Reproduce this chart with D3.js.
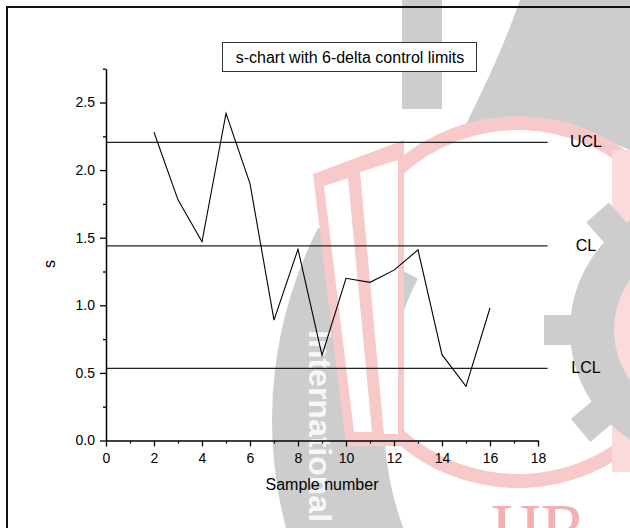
<!DOCTYPE html>
<html>
<head>
<meta charset="utf-8">
<script src="https://cdn.jsdelivr.net/npm/d3@7"></script>
<style>
	body { margin: 0; background: #fff; }
	svg { display: block; font-family: "Liberation Sans", Arial, sans-serif; }
</style>
</head>
<body>
<div id="chart"></div>
<script>
// s values per sample
const sampleNumbers = [2, 3, 4, 5, 6, 7, 8, 9, 10, 11, 12, 13, 14, 15, 16];
const sValues = [2.28, 1.78, 1.47, 2.42, 1.90, 0.89, 1.415, 0.63, 1.20, 1.17, 1.26, 1.41, 0.635, 0.40, 0.98];

const limitNames = ["UCL", "CL", "LCL"];
const limitValues = [2.205, 1.44, 0.533];

const xTicks = [0, 2, 4, 6, 8, 10, 12, 14, 16, 18];
const xMinorTicks = [1, 3, 5, 7, 9, 11, 13, 15, 17];
const yTicks = [0, 0.5, 1.0, 1.5, 2.0, 2.5];
const yMinorTicks = [0.25, 0.75, 1.25, 1.75, 2.25, 2.75];

const titleText = "s-chart with 6-delta control limits";
const xTitle = "Sample number";
const yTitle = "s";

const width = 630, height = 528;

let svg = d3.select("#chart").append("svg")
	.attr("width", width)
	.attr("height", height);

let x = d3.scaleLinear().domain([0, 18]).range([106, 538]);
let y = d3.scaleLinear().domain([0, 2.75]).range([440.5, 68.7]);

// faint logo watermark behind the plot
function drawWatermark(g) {
	let grey = "#cdcdcd", pink = "#f7c9c9";
	// big grey band on the left
	g.append("path")
		.attr("transform", "translate(696,420)")
		.attr("d", d3.arc().innerRadius(312).outerRadius(424).startAngle(-2.5).endAngle(-1.1)())
		.attr("fill", grey);
	// grey bar at the top
	g.append("rect").attr("x", 402).attr("y", 0).attr("width", 40).attr("height", 109).attr("fill", grey);
	// grey swoosh top right
	g.append("path")
		.attr("d", "M520,0 L630,0 L630,150 C580,128 520,118 466,124 C488,80 506,40 520,0 Z")
		.attr("fill", grey);
	// pink ring (white inside)
	g.append("path")
		.attr("transform", "translate(518,302)")
		.attr("d", d3.arc().innerRadius(0).outerRadius(184).startAngle(-0.75).endAngle(Math.PI + 0.75)())
		.attr("fill", "#fff");
	g.append("path")
		.attr("transform", "translate(518,302)")
		.attr("d", d3.arc().innerRadius(172).outerRadius(186).startAngle(-0.75).endAngle(Math.PI + 0.75)())
		.attr("fill", pink);
	// book pages
	g.append("path")
		.attr("d", "M313,174 L404,140 L404,446 L346,446 Z")
		.attr("fill", pink);
	g.append("path")
		.attr("d", "M324,186 L348,178 L372,432 L354,432 Z")
		.attr("fill", "#fff");
	g.append("path")
		.attr("d", "M360,172 L398,160 L398,434 L384,434 Z")
		.attr("fill", "#fff");
	// pink strip on right edge
	g.append("rect").attr("x", 612).attr("y", 150).attr("width", 18).attr("height", 322).attr("fill", "#fadada");
	// grey gear on the right
	let gear = g.append("g").attr("transform", "translate(700,330)");
	gear.append("path")
		.attr("d", d3.arc().innerRadius(86).outerRadius(130).startAngle(0).endAngle(2 * Math.PI)())
		.attr("fill", grey);
	[-1.571, -0.716, -2.27].forEach(a => {
		gear.append("rect")
			.attr("x", -15).attr("y", -156).attr("width", 30).attr("height", 32)
			.attr("transform", `rotate(${a * 180 / Math.PI})`)
			.attr("fill", grey);
	});
	// rotated white text inside grey band
	g.append("text")
		.attr("transform", "translate(309,330) rotate(90)")
		.attr("font-size", 32)
		.attr("font-weight", "bold")
		.attr("fill", "#fff")
		.attr("opacity", 0.85)
		.text("International");
	// red letters bottom right
	g.append("text")
		.attr("x", 490).attr("y", 552)
		.attr("font-family", "Liberation Serif, serif")
		.attr("font-size", 70)
		.attr("fill", "#f2b0b0")
		.text("IJR");
}

drawWatermark(svg.append("g").attr("id", "watermark"));

// outer frame
svg.append("rect")
	.attr("x", 7).attr("y", 7)
	.attr("width", 640).attr("height", 540)
	.attr("fill", "none")
	.attr("stroke", "#111")
	.attr("stroke-width", 2);

// title box
let titleG = svg.append("g");
titleG.append("rect")
	.attr("x", 222.5).attr("y", 42.5)
	.attr("width", 254).attr("height", 29)
	.attr("fill", "#fff")
	.attr("stroke", "#333")
	.attr("stroke-width", 1);
titleG.append("text")
	.attr("x", 350).attr("y", 63)
	.attr("text-anchor", "middle")
	.attr("font-size", 16)
	.text(titleText);

// control limit lines
svg.append("g").selectAll("line")
	.data(limitValues)
	.join("line")
	.attr("x1", x(0))
	.attr("x2", x(18.4))
	.attr("y1", d => y(d))
	.attr("y2", d => y(d))
	.attr("stroke", "#222")
	.attr("stroke-width", 1.3);

svg.append("g").selectAll("text")
	.data(limitNames)
	.join("text")
	.text(d => d)
	.attr("x", x(20))
	.attr("y", (d, i) => y(limitValues[i]) + 5)
	.attr("text-anchor", "middle")
	.attr("font-size", 16);

// s line
let line = d3.line()
	.x((d, i) => x(sampleNumbers[i]))
	.y(d => y(d));

svg.append("path")
	.datum(sValues)
	.attr("d", line)
	.attr("fill", "none")
	.attr("stroke", "#000")
	.attr("stroke-width", 1.1);

// axes
let xAxis = d3.axisBottom(x).tickValues(xTicks).tickSize(6).tickSizeOuter(0).tickPadding(7)
	.tickFormat(d3.format("d"));
svg.append("g")
	.attr("transform", `translate(0,${y(0)})`)
	.call(xAxis);
svg.append("g")
	.attr("transform", `translate(0,${y(0)})`)
	.call(d3.axisBottom(x).tickValues(xMinorTicks).tickSize(3).tickSizeOuter(0).tickFormat(""))
	.select(".domain").remove();

let yAxis = d3.axisLeft(y).tickValues(yTicks).tickSize(6).tickSizeOuter(0).tickPadding(5)
	.tickFormat(d3.format(".1f"));
svg.append("g")
	.attr("transform", `translate(${x(0)},0)`)
	.call(yAxis);
svg.append("g")
	.attr("transform", `translate(${x(0)},0)`)
	.call(d3.axisLeft(y).tickValues(yMinorTicks).tickSize(3).tickSizeOuter(0).tickFormat(""))
	.select(".domain").remove();

svg.selectAll(".domain").attr("stroke", "#000").attr("stroke-width", 1.5);
svg.selectAll(".tick line").attr("stroke", "#000").attr("stroke-width", 1.3);
svg.selectAll(".tick text")
	.attr("font-family", "Liberation Sans, Arial, sans-serif")
	.attr("font-size", 14)
	.attr("fill", "#000");

// axis titles
svg.append("text")
	.attr("x", (x(0) + x(18)) / 2)
	.attr("y", 490)
	.attr("text-anchor", "middle")
	.attr("font-size", 16)
	.text(xTitle);

svg.append("text")
	.attr("transform", `translate(55,264) rotate(-90)`)
	.attr("text-anchor", "middle")
	.attr("font-size", 16)
	.text(yTitle);
</script>
</body>
</html>
